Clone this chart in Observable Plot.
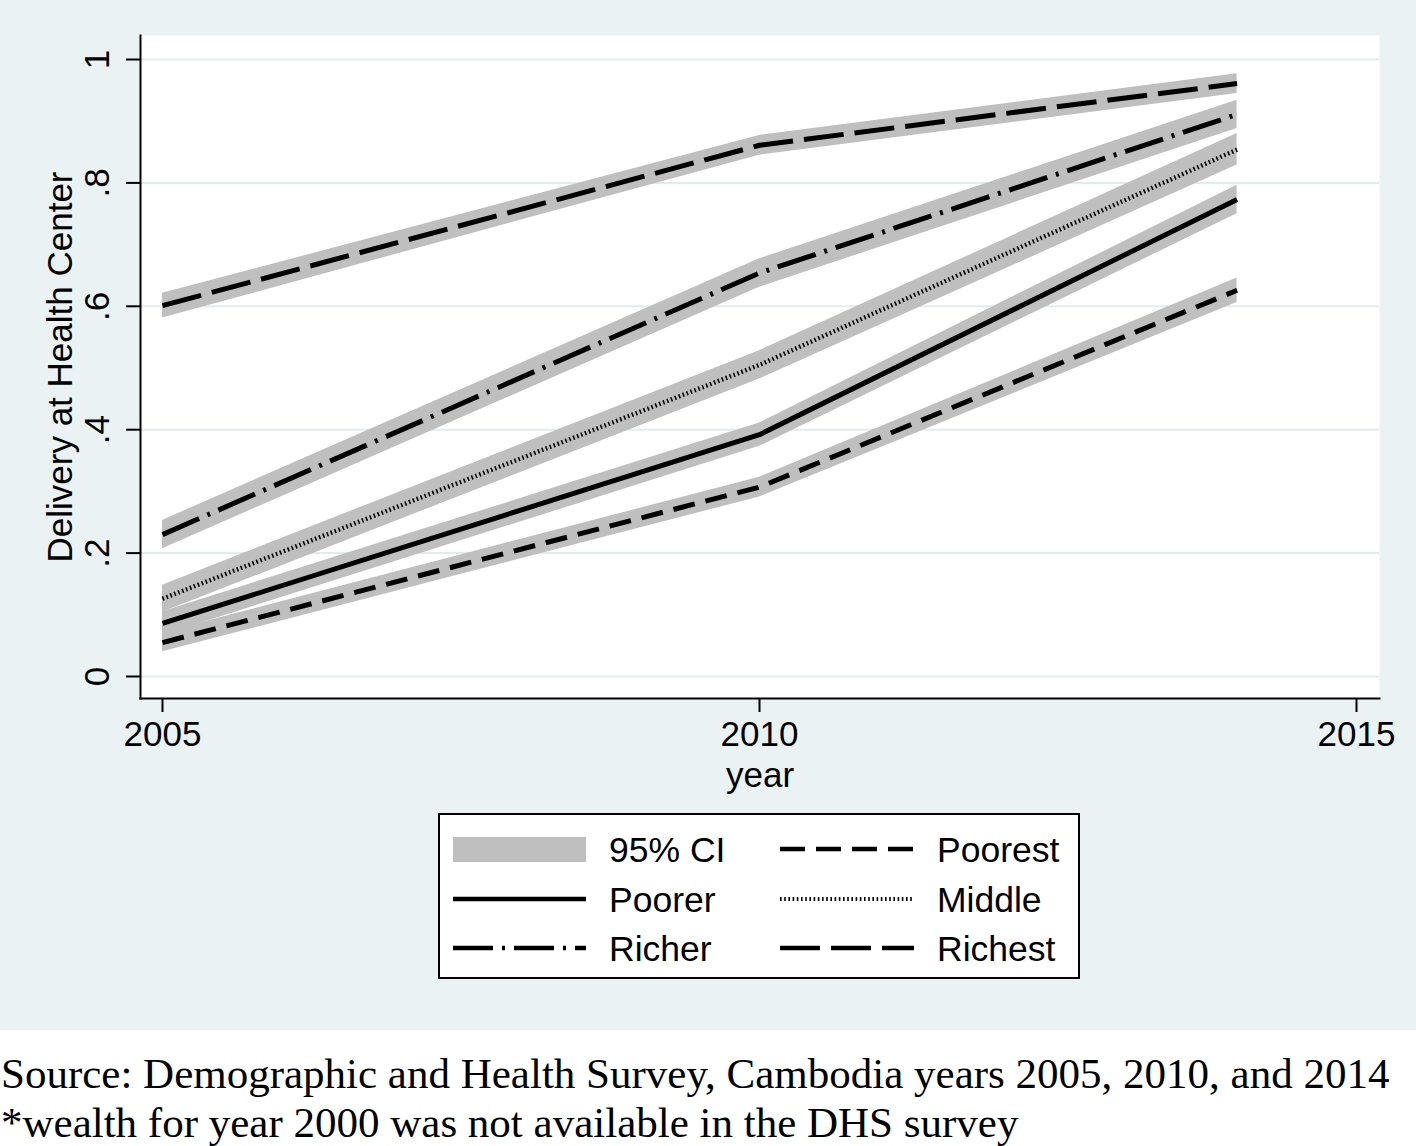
<!DOCTYPE html>
<html>
<head>
<meta charset="utf-8">
<script src="https://cdn.jsdelivr.net/npm/d3@7"></script>
<script src="https://cdn.jsdelivr.net/npm/@observablehq/plot@0.6"></script>
<style>
  html, body { margin: 0; padding: 0; background: #ffffff; overflow: hidden; }
  #fig { position: relative; width: 1416px; height: 1030px; background: #eaf2f3; }
  #legend { position: absolute; left: 438px; top: 813px; }
  #caption { font-family: "Liberation Serif", "Times New Roman", Times, serif; font-size: 43px; line-height: 49px; color: #000; padding: 19px 0 0 1px; white-space: nowrap; }
</style>
</head>
<body>
<div id="fig"></div>
<div id="caption">
  <div>Source: Demographic and Health Survey, Cambodia years 2005, 2010, and 2014</div>
  <div>*wealth for year 2000 was not available in the DHS survey</div>
</div>
<script>
// ---- data ----
const years = [2005, 2010, 2014];
const groups = ["Poorest", "Poorer", "Middle", "Richer", "Richest"];

const poorestEst = [0.055, 0.307, 0.626];
const poorestLo  = [0.040, 0.291, 0.606];
const poorestHi  = [0.071, 0.323, 0.646];

const poorerEst = [0.086, 0.392, 0.773];
const poorerLo  = [0.067, 0.373, 0.750];
const poorerHi  = [0.105, 0.411, 0.796];

const middleEst = [0.126, 0.505, 0.854];
const middleLo  = [0.104, 0.482, 0.829];
const middleHi  = [0.148, 0.528, 0.880];

const richerEst = [0.230, 0.654, 0.911];
const richerLo  = [0.207, 0.631, 0.888];
const richerHi  = [0.253, 0.677, 0.934];

const richestEst = [0.601, 0.861, 0.961];
const richestLo  = [0.581, 0.845, 0.945];
const richestHi  = [0.621, 0.877, 0.977];

const xTicks = [2005, 2010, 2015];
const yTicks = [0, 0.2, 0.4, 0.6, 0.8, 1];
const yTickLabels = ["0", ".2", ".4", ".6", ".8", "1"];

const legendLabels = ["95% CI", "Poorest", "Poorer", "Middle", "Richer", "Richest"];

// ---- build table ----
const seriesVals = {
  Poorest: [poorestEst, poorestLo, poorestHi],
  Poorer: [poorerEst, poorerLo, poorerHi],
  Middle: [middleEst, middleLo, middleHi],
  Richer: [richerEst, richerLo, richerHi],
  Richest: [richestEst, richestLo, richestHi]
};
const rows = [];
for (const g of groups) {
  const [e, lo, hi] = seriesVals[g];
  years.forEach((yr, i) => rows.push({group: g, year: yr, est: e[i], lo: lo[i], hi: hi[i]}));
}

// ---- styles ----
const dash = {
  Poorest: "22,11",
  Poorer: null,
  Middle: "1.6,2.6",
  Richer: "40,9,3,9",
  Richest: "40,11"
};
const lineW = {Poorest: 5, Poorer: 5, Middle: 4.5, Richer: 5, Richest: 5};
const ciFill = "#bfbfbf";
const font = "'Liberation Sans', Arial, Helvetica, sans-serif";

const marks = [
  Plot.frame({fill: "white", stroke: null}),
  Plot.gridY(yTicks, {stroke: "#e2ecee", strokeOpacity: 1, strokeWidth: 2}),
  Plot.areaY(rows, {x: "year", y1: "lo", y2: "hi", z: "group", fill: ciFill, curve: "linear"})
];
for (const g of groups) {
  marks.push(Plot.line(rows.filter(d => d.group === g), {
    x: "year", y: "est", stroke: "black", strokeWidth: lineW[g],
    strokeDasharray: dash[g] || undefined, strokeLinecap: "butt", strokeLinejoin: "round"
  }));
}
marks.push(
  Plot.frame({anchor: "left", stroke: "black", strokeWidth: 2}),
  Plot.frame({anchor: "bottom", stroke: "black", strokeWidth: 2}),
  Plot.axisY({ticks: yTicks, tickSize: 14, tickFormat: () => "", strokeWidth: 2, label: null}),
  Plot.text(yTicks, {y: d => d, text: (d, i) => yTickLabels[i], frameAnchor: "left", dx: -43, rotate: -90,
    textAnchor: "middle", lineAnchor: "middle", fontSize: 35, fill: "black"}),
  Plot.axisX({ticks: xTicks, tickSize: 14, tickPadding: 9, tickFormat: d => String(d), fontSize: 35, strokeWidth: 2, label: null}),
  Plot.text(["year"], {frameAnchor: "bottom", dy: 77, fontSize: 35, fill: "black", text: d => d,
    textAnchor: "middle", lineAnchor: "middle"}),
  Plot.text(["Delivery at Health Center"], {frameAnchor: "left", dx: -80, rotate: -90, fontSize: 35, fill: "black", text: d => d,
    textAnchor: "middle", lineAnchor: "middle"})
);

const chart = Plot.plot({
  width: 1416,
  height: 1030,
  marginLeft: 140,
  marginRight: 37,
  marginTop: 35,
  marginBottom: 332,
  style: {background: "transparent", fontFamily: font, fontSize: "35px", color: "black", overflow: "visible"},
  x: {domain: [2005, 2015], range: [162, 1356]},
  y: {domain: [0, 1], range: [676, 59]},
  marks
});
document.getElementById("fig").appendChild(chart);

// ---- legend ----
const W = 642, H = 166;
const leg = d3.select("#fig").append("div").attr("id", "legend")
  .append("svg").attr("width", W).attr("height", H)
  .style("font-family", font).style("font-size", "35.5px");
leg.append("rect").attr("x", 1).attr("y", 1).attr("width", W - 2).attr("height", H - 2)
  .attr("fill", "white").attr("stroke", "black").attr("stroke-width", 2);
const rowY = [36, 86, 135];
const col = [{sx: 15, ex: 148, tx: 171}, {sx: 342, ex: 476, tx: 499}];
const items = [
  {label: legendLabels[0], c: 0, r: 0, type: "ci"},
  {label: legendLabels[1], c: 1, r: 0, g: "Poorest"},
  {label: legendLabels[2], c: 0, r: 1, g: "Poorer"},
  {label: legendLabels[3], c: 1, r: 1, g: "Middle"},
  {label: legendLabels[4], c: 0, r: 2, g: "Richer"},
  {label: legendLabels[5], c: 1, r: 2, g: "Richest"}
];
for (const it of items) {
  const c = col[it.c], y = rowY[it.r];
  if (it.type === "ci") {
    leg.append("rect").attr("x", c.sx).attr("y", y - 12).attr("width", c.ex - c.sx).attr("height", 25).attr("fill", ciFill);
  } else {
    const ln = leg.append("line").attr("x1", c.sx).attr("x2", c.ex).attr("y1", y).attr("y2", y)
      .attr("stroke", "black").attr("stroke-width", it.g === "Middle" ? 4 : 4.5);
    if (dash[it.g]) ln.attr("stroke-dasharray", it.g === "Poorest" ? "25,11" : dash[it.g]);
  }
  leg.append("text").attr("x", c.tx).attr("y", y).attr("dy", "0.36em").text(it.label);
}
</script>
</body>
</html>
